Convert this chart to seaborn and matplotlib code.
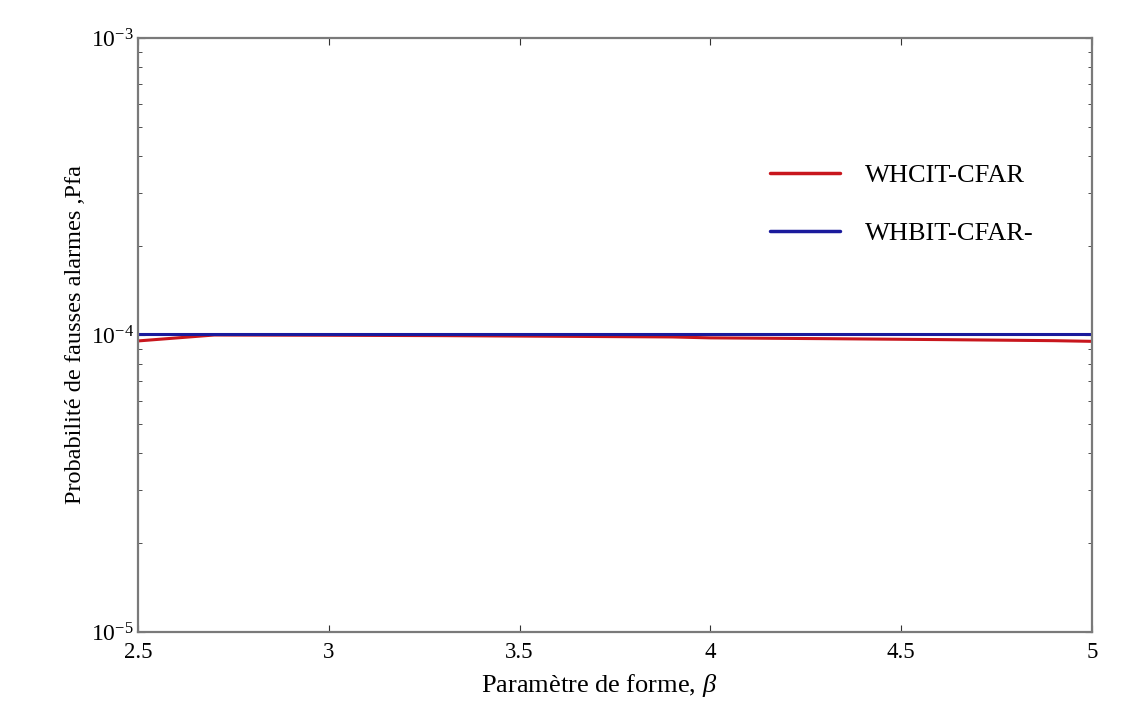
import numpy as np
import pandas as pd
import matplotlib
matplotlib.use("Agg")
import matplotlib.pyplot as plt
import seaborn as sns
from matplotlib.ticker import LogLocator, NullFormatter, FixedLocator

# Shape parameter values
beta = [2.5, 2.7, 3.0, 3.3, 3.6, 3.9, 4.0, 4.3, 4.6, 4.9, 5.0]
# False alarm probability for each detector
pfa_whcit = [0.955e-4, 1.0e-4, 0.998e-4, 0.995e-4, 0.99e-4, 0.985e-4, 0.978e-4, 0.972e-4, 0.965e-4, 0.957e-4, 0.952e-4]
pfa_whbit = [1.01e-4, 1.01e-4, 1.01e-4, 1.01e-4, 1.01e-4, 1.01e-4, 1.01e-4, 1.01e-4, 1.01e-4, 1.01e-4, 1.01e-4]
series_names = ["WHCIT-CFAR", "WHBIT-CFAR"]
legend_labels = ["WHCIT-CFAR", "WHBIT-CFAR-"]
series_colors = ["#c8161d", "#1a1a9c"]
x_ticks = [2.5, 3, 3.5, 4, 4.5, 5]
x_tick_labels = ["2.5", "3", "3.5", "4", "4.5", "5"]

df = pd.concat([
    pd.DataFrame({"beta": beta, "pfa": pfa_whcit, "detector": series_names[0]}),
    pd.DataFrame({"beta": beta, "pfa": pfa_whbit, "detector": series_names[1]}),
])

sns.set_style("white")
plt.rcParams["font.family"] = ["Liberation Serif", "DejaVu Serif"]
plt.rcParams["text.color"] = "black"
plt.rcParams["axes.labelcolor"] = "black"
plt.rcParams["mathtext.fontset"] = "custom"
plt.rcParams["mathtext.rm"] = "Liberation Serif"
plt.rcParams["mathtext.it"] = "Liberation Serif:italic"

fig = plt.figure(figsize=(11.24, 7.18), dpi=100)
ax = fig.add_axes([138 / 1124, 1 - 632 / 718, (1092 - 138) / 1124, (632 - 38) / 718])

sns.lineplot(data=df, x="beta", y="pfa", hue="detector", palette=series_colors,
             linewidth=2.2, ax=ax, legend=False)

ax.set_yscale("log")
ax.set_xlim(2.5, 5)
ax.set_ylim(1e-5, 1e-3)
ax.xaxis.set_major_locator(FixedLocator(x_ticks))
ax.set_xticklabels(x_tick_labels)
ax.yaxis.set_major_locator(LogLocator(base=10, numticks=5))
ax.yaxis.set_minor_locator(LogLocator(base=10, subs=np.arange(2, 10), numticks=10))
ax.yaxis.set_minor_formatter(NullFormatter())

ax.tick_params(axis="both", which="both", direction="in", left=True, bottom=True,
               top=True, right=True, colors="#333333", labelcolor="black")
ax.tick_params(axis="both", which="major", length=5)
ax.tick_params(axis="x", which="major", labelsize=16.5, pad=7)
ax.tick_params(axis="y", which="major", labelsize=17, pad=3)
ax.tick_params(axis="y", which="minor", length=3)
for s in ax.spines.values():
    s.set_color("#7a7a7a")
    s.set_linewidth(1.6)

ax.set_xlabel(r"Paramètre de forme, $\it{\beta}$", fontsize=19, color="black")
ax.set_ylabel("Probabilité de fausses alarmes ,Pfa", fontsize=17.5, color="black")
ax.xaxis.set_label_coords(0.483, -0.068)
ax.yaxis.set_label_coords(-0.054, 0.5)

# legend drawn as plain handles without a frame
handles = [plt.Line2D([], [], color=c, linewidth=2.5) for c in series_colors]
ax.legend(handles, legend_labels, loc="upper left",
          bbox_to_anchor=(0.6375, 0.828), frameon=False, fontsize=19,
          handlelength=2.65, handletextpad=0.95, labelspacing=1.3,
          labelcolor="black")

fig.savefig("out.png", dpi=100, facecolor="white")
